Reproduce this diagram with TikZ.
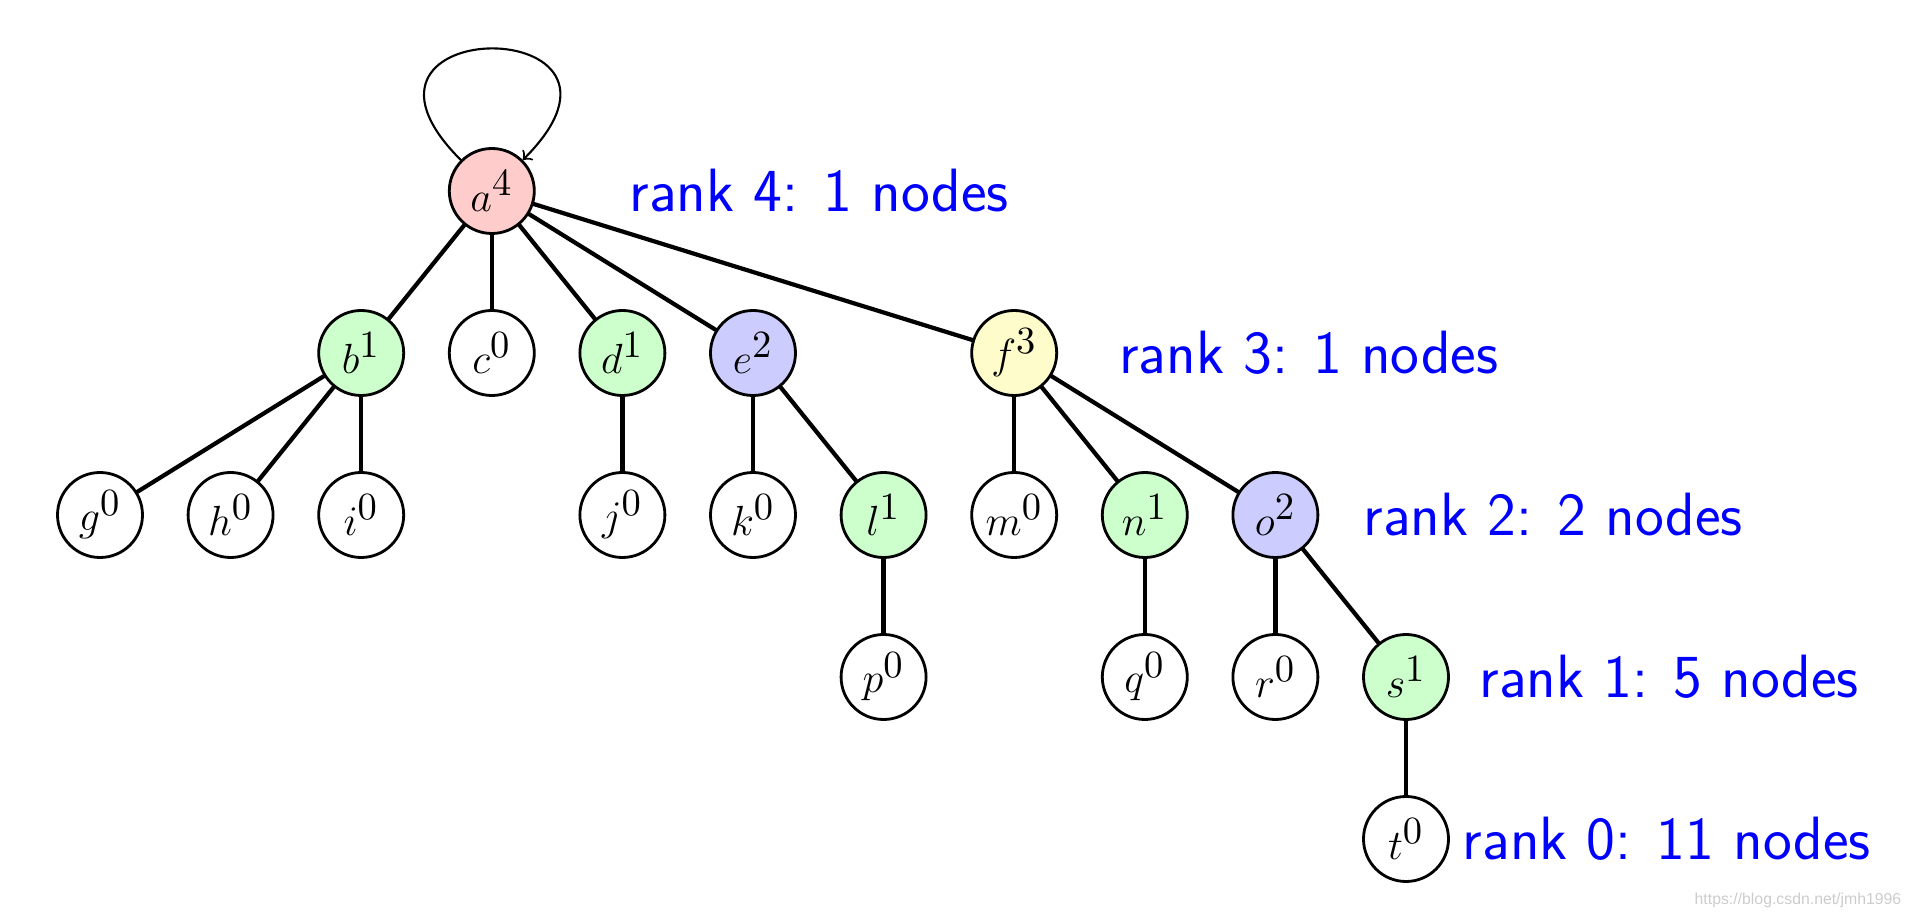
\documentclass[tikz,border=0pt]{standalone}
\usepackage{fontspec}
\newfontfamily\wmfont{Liberation Sans}
\DeclareMathSizes{12}{12}{10.95}{8}
\begin{document}
\begin{tikzpicture}[line join=round, line cap=round, x=1.306cm, y=1.62cm]
	\tikzset{vtx/.style={circle,draw,thick,minimum size=0.85cm,inner sep=0pt,font=\large},
		r1/.style={vtx,fill=green!20}, r2/.style={vtx,fill=blue!20},
		r3/.style={vtx,fill=yellow!20}, r4/.style={vtx,fill=red!20},
		link/.style={very thick},
		lbl/.style={anchor=west,inner sep=0pt,text=blue,font=\sffamily\fontsize{17.4}{21}\selectfont}}
	\useasboundingbox (-1cm,-0.79cm) rectangle (18.07cm,8.39cm);
	% the tree
	\node[r4] (a) at (3,4) {$a^4$};
	\node[r1] (b) at (2,3) {$b^1$};
	\node[vtx] (c) at (3,3) {$c^0$};
	\node[r1] (d) at (4,3) {$d^1$};
	\node[r2] (e) at (5,3) {$e^2$};
	\node[r3] (f) at (7,3) {$f^3$};
	\node[vtx] (g) at (0,2) {$g^0$};
	\node[vtx] (h) at (1,2) {$h^0$};
	\node[vtx] (i) at (2,2) {$i^0$};
	\node[vtx] (j) at (4,2) {$j^0$};
	\node[vtx] (k) at (5,2) {$k^0$};
	\node[r1] (l) at (6,2) {$l^1$};
	\node[vtx] (m) at (7,2) {$m^0$};
	\node[r1] (n) at (8,2) {$n^1$};
	\node[r2] (o) at (9,2) {$o^2$};
	\node[vtx] (p) at (6,1) {$p^0$};
	\node[vtx] (q) at (8,1) {$q^0$};
	\node[vtx] (r) at (9,1) {$r^0$};
	\node[r1] (s) at (10,1) {$s^1$};
	\node[vtx] (t) at (10,0) {$t^0$};
	\foreach \u/\v in {a/b,a/c,a/d,a/e,a/f,b/g,b/h,b/i,d/j,e/k,e/l,l/p,f/m,f/n,f/o,n/q,o/r,o/s,s/t}
		\draw[link] (\u) -- (\v);
	\draw[semithick,->] (a) to[out=135,in=45,min distance=2.1cm] (a);
	% rank counts
	\node[lbl] (rk4) at (4.05,4) {rank 4: 1 nodes};
	\node[lbl] (rk3) at (7.80,3) {rank 3: 1 nodes};
	\node[lbl] (rk2) at (9.67,2) {rank 2: 2 nodes};
	\node[lbl] (rk1) at (10.56,1) {rank 1: 5 nodes};
	\node[lbl] (rk0) at (10.43,0) {rank 0: 11 nodes};
	\node[anchor=east,inner sep=0pt,text=gray!40,font=\wmfont\fontsize{4.5}{5}\selectfont] (wm) at (18.02cm,-0.61cm) {https://blog.csdn.net/jmh1996};
\end{tikzpicture}
\end{document}
